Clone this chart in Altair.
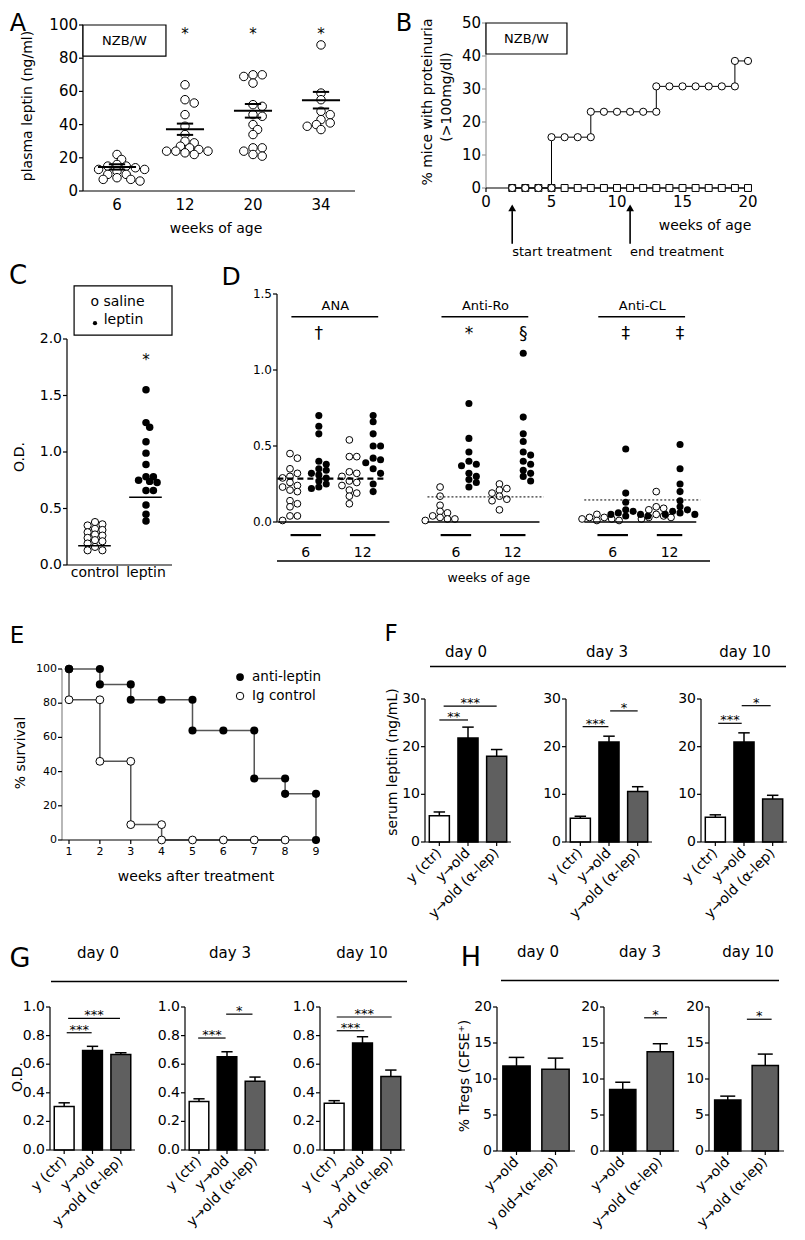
import altair as alt
import pandas as pd

# ======================= DATA =======================
# A: plasma leptin in NZB/W mice
A_weeks = ["6", "12", "20", "34"]
A_w6 = [22, 19, 16, 15, 15, 14, 13, 13, 12, 10, 10, 8, 7, 7, 6]
A_w12 = [64, 55, 53, 46, 39, 34, 30, 29, 27, 26, 25, 24, 24, 24, 23, 22]
A_w20 = [70, 70, 69, 65, 52, 51, 46, 45, 40, 37, 34, 26, 26, 24, 22, 21]
A_w34 = [88, 59, 55, 48, 46, 43, 41, 40, 39, 37]
A_mean = [14.5, 37.2, 48.3, 54.7]
A_sem = [1.6, 3.4, 4.1, 5.0]
A_yticks = [0, 20, 40, 60, 80, 100]

# B: % mice with proteinuria
B_circ_w = [2, 3, 4, 5, 5, 6, 7, 8, 8, 9, 10, 11, 12, 13, 13, 14, 15, 16, 17, 18, 19, 19, 20]
B_circ_v = [0, 0, 0, 0, 15.4, 15.4, 15.4, 15.4, 23.1, 23.1, 23.1, 23.1, 23.1, 23.1,
            30.8, 30.8, 30.8, 30.8, 30.8, 30.8, 30.8, 38.5, 38.5]
B_sq_w = [2, 3, 4, 5, 6, 7, 8, 9, 10, 11, 12, 13, 14, 15, 16, 17, 18, 19, 20]
B_sq_v = [0, 0, 0, 0, 0, 0, 0, 0, 0, 0, 0, 0, 0, 0, 0, 0, 0, 0, 0]
B_event_w = [2, 11]
B_event = ["start treatment", "end treatment"]
B_xticks = [0, 5, 10, 15, 20]
B_yticks = [0, 10, 20, 30, 40, 50]

# C: O.D. saline vs leptin
C_groups = ["control", "leptin"]
C_saline = [0.38, 0.36, 0.35, 0.32, 0.31, 0.29, 0.27, 0.26, 0.24, 0.22, 0.21, 0.19, 0.16, 0.13, 0.13]
C_leptin = [1.55, 1.26, 1.22, 1.09, 0.99, 0.89, 0.78, 0.78, 0.75, 0.74, 0.73, 0.66, 0.66, 0.53, 0.45, 0.39]
C_median = [0.17, 0.60]
C_yticks = [0.0, 0.5, 1.0, 1.5, 2.0]

# D: autoantibodies
D_groups = ["ANA", "Anti-Ro", "Anti-CL"]
D_ages = ["6", "12"]
D_ana_s6 = [0.45, 0.42, 0.35, 0.32, 0.30, 0.29, 0.26, 0.24, 0.23, 0.21, 0.20, 0.14, 0.12, 0.10, 0.04, 0.04, 0.01]
D_ana_l6 = [0.70, 0.63, 0.58, 0.40, 0.38, 0.35, 0.34, 0.32, 0.31, 0.29, 0.27, 0.25, 0.23, 0.22]
D_ana_s12 = [0.54, 0.43, 0.43, 0.33, 0.32, 0.30, 0.27, 0.26, 0.24, 0.21, 0.19, 0.17, 0.12]
D_ana_l12 = [0.70, 0.66, 0.58, 0.50, 0.50, 0.42, 0.41, 0.39, 0.35, 0.32, 0.25, 0.20]
D_ro_s6 = [0.23, 0.17, 0.11, 0.07, 0.06, 0.04, 0.03, 0.02, 0.02, 0.01]
D_ro_l6 = [0.78, 0.55, 0.46, 0.40, 0.38, 0.37, 0.32, 0.30, 0.28, 0.26, 0.23]
D_ro_s12 = [0.25, 0.22, 0.21, 0.19, 0.17, 0.15, 0.14, 0.08]
D_ro_l12 = [1.11, 0.69, 0.58, 0.53, 0.46, 0.44, 0.40, 0.38, 0.34, 0.32, 0.30, 0.27]
D_cl_s6 = [0.05, 0.03, 0.03, 0.02, 0.02, 0.01, 0.01]
D_cl_l6 = [0.48, 0.19, 0.13, 0.08, 0.07, 0.06, 0.05, 0.05, 0.04, 0.04]
D_cl_s12 = [0.20, 0.10, 0.09, 0.08, 0.05, 0.04, 0.03, 0.03, 0.02]
D_cl_l12 = [0.51, 0.35, 0.25, 0.20, 0.14, 0.10, 0.08, 0.07, 0.06, 0.05, 0.05]
D_thresh = [0.285, 0.165, 0.145]
D_sig_group = [0, 1, 1, 2, 2]
D_sig_col = [1, 1, 3, 1, 3]
D_sig = ["\u2020", "*", "\u00a7", "\u2021", "\u2021"]
D_yticks = [0.0, 0.5, 1.0, 1.5]

# E: survival
E_series = ["anti-leptin", "Ig control"]
E_anti_w = [1, 2, 2, 3, 3, 4, 5, 5, 6, 7, 7, 8, 8, 9, 9]
E_anti_s = [100, 100, 91, 91, 82, 82, 82, 64, 64, 64, 36, 36, 27, 27, 0]
E_ig_w = [1, 1, 2, 2, 3, 3, 4, 4, 5, 6, 7, 8]
E_ig_s = [100, 82, 82, 46, 46, 9, 9, 0, 0, 0, 0, 0]
E_xticks = [1, 2, 3, 4, 5, 6, 7, 8, 9]
E_yticks = [0, 20, 40, 60, 80, 100]

# F/G/H: bar panels
DAYS = ["day 0", "day 3", "day 10"]
FG_groups = ["y (ctr)", "y\u2192old", "y\u2192old (\u03b1-lep)"]
H_groups_d0 = ["y\u2192old", "y old\u2192(\u03b1-lep)"]
H_groups = ["y\u2192old", "y\u2192old (\u03b1-lep)"]
F_mean = [[5.5, 21.8, 18.0], [5.0, 21.0, 10.6], [5.2, 21.0, 9.0]]
F_sem = [[0.8, 2.3, 1.4], [0.4, 1.2, 1.0], [0.5, 1.9, 0.8]]
G_mean = [[0.305, 0.695, 0.668], [0.340, 0.652, 0.480], [0.327, 0.748, 0.514]]
G_sem = [[0.025, 0.030, 0.012], [0.018, 0.035, 0.030], [0.018, 0.044, 0.045]]
H_mean = [[11.8, 11.35], [8.55, 13.8], [7.07, 11.86]]
H_sem = [[1.2, 1.55], [1.0, 1.1], [0.55, 1.6]]
F_brackets = [[(0, 1, 25.6, "**"), (0.15, 2, 28.5, "***")],
              [(0.08, 0.98, 24.2, "***"), (1.04, 2.0, 27.5, "*")],
              [(0.1, 0.92, 24.9, "***"), (0.92, 1.93, 28.6, "*")]]
G_brackets = [[(0.09, 0.97, 0.82, "***"), (0.14, 1.97, 0.92, "***")],
              [(-0.03, 0.95, 0.783, "***"), (0.97, 1.91, 0.95, "*")],
              [(0.09, 1.06, 0.834, "***"), (0.09, 2.03, 0.93, "***")]]
H_brackets = [[], [(0.57, 1.18, 18.5, "*")], [(0.51, 1.17, 18.3, "*")]]
F_yticks = [0, 10, 20, 30]
G_yticks = [0.0, 0.2, 0.4, 0.6, 0.8, 1.0]
H_yticks = [0, 5, 10, 15, 20]
FG_colors = ["white", "black", "#5f5f5f"]
H_colors = ["black", "#5f5f5f"]

# ======================= LAYOUT HELPERS =======================
W, H = 789, 1224
MG = 8
FONT = "DejaVu Sans"
ONE = pd.DataFrame({"k": [0]})


class Lin:
    """Linear scale mapping domain [d0, d1] to page pixels [p0, p1]."""

    def __init__(self, d0, d1, p0, p1):
        self.d0, self.d1, self.p0, self.p1 = d0, d1, p0, p1
        self.scale = alt.Scale(domain=[d0, d1], range=[p0 - MG, p1 - MG], nice=False, zero=False)

    def inv(self, p):
        return self.d0 + (p - self.p0) * (self.d1 - self.d0) / (self.p1 - self.p0)


def fmt_labels(vals, dec=None):
    return [f"{v:.{dec}f}" if dec is not None else str(v) for v in vals]


def X(f, s):
    return alt.X(f, type="quantitative", scale=s.scale, axis=None)


def Y(f, s):
    return alt.Y(f, type="quantitative", scale=s.scale, axis=None)


def DX(v):
    return alt.XDatum(v, axis=None)


def DY(v):
    return alt.YDatum(v, axis=None)


def axis_left(xs, ys, xp, vals, labs, lo, hi, size=14, dom="black", tick="black"):
    n = len(vals)
    df = pd.DataFrame({"v": vals, "l": labs, "a": [xs.inv(xp - 4)] * n,
                       "b": [xs.inv(xp)] * n, "t": [xs.inv(xp - 5)] * n})
    dd = pd.DataFrame({"x": [xs.inv(xp)], "lo": [lo], "hi": [hi]})
    dline = alt.Chart(dd).mark_rule(color=dom, strokeWidth=1.2).encode(
        x=X("x", xs), y=Y("lo", ys), y2="hi:Q")
    tks = alt.Chart(df).mark_rule(color=tick, strokeWidth=1.2).encode(
        x=X("a", xs), x2="b:Q", y=Y("v", ys))
    lbl = alt.Chart(df).mark_text(align="right", baseline="middle", fontSize=size).encode(
        x=X("t", xs), y=Y("v", ys), text="l:N")
    return [dline, tks, lbl]


def axis_bottom(xs, ys, yp, vals, labs, lo, hi, size=14, ticks=True, pad=2, rotate=False, dom="black"):
    n = len(vals)
    dd = pd.DataFrame({"y": [ys.inv(yp)], "lo": [lo], "hi": [hi]})
    out = [alt.Chart(dd).mark_rule(color=dom, strokeWidth=1.2).encode(
        y=Y("y", ys), x=X("lo", xs), x2="hi:Q")]
    lab_y = yp + 9 if rotate else yp + (4 if ticks else 0) + pad
    df = pd.DataFrame({"v": vals, "l": labs, "a": [ys.inv(yp)] * n, "b": [ys.inv(yp + 4)] * n,
                       "t": [ys.inv(lab_y)] * n})
    if ticks:
        out.append(alt.Chart(df).mark_rule(color="black", strokeWidth=1.2).encode(
            x=X("v", xs), y=Y("a", ys), y2="b:Q"))
    if rotate:
        out.append(alt.Chart(df).mark_text(angle=315, align="right", baseline="middle", fontSize=size).encode(
            x=X("v", xs), y=Y("t", ys), text="l:N"))
    else:
        out.append(alt.Chart(df).mark_text(align="center", baseline="top", fontSize=size).encode(
            x=X("v", xs), y=Y("t", ys), text="l:N"))
    return out


def swarm(vals, r, ppu_y, ppu_x, sep=1.6):
    placed, out = [], []
    for v in vals:
        yy = v * ppu_y
        cand = [0.0]
        for k in range(1, 14):
            cand += [k * r, -k * r]
        chosen = cand[-1]
        for c in cand:
            if all((c - a) ** 2 + (yy - b) ** 2 >= (sep * r) ** 2 for a, b in placed):
                chosen = c
                break
        placed.append((chosen, yy))
        out.append(chosen / ppu_x)
    return out


def vtext(t, x, y, size, **kw):
    return alt.Chart(ONE).mark_text(text=t, fontSize=size, **kw).encode(
        x=alt.value(x - MG), y=alt.value(y - MG))


def ytitle(t, x, y, size=14):
    return vtext(t, x, y, size, angle=270, align="center", baseline="middle")


def xtitle(t, x, y, size=14):
    return vtext(t, x, y, size, align="center", baseline="middle")


def vrule(x1, x2, y, w=1.4):
    return alt.Chart(ONE).mark_rule(strokeWidth=w, color="black").encode(
        x=alt.value(x1 - MG), x2=alt.value(x2 - MG), y=alt.value(y - MG))


OPEN = dict(shape="circle", filled=True, fill="white", stroke="black", strokeWidth=1, opacity=1)

layers = []

# ======================= PANEL A =======================
xA = Lin(-0.5, 3.5, 83, 355)
yA = Lin(0, 100, 191, 25)
rows = []
for gi, vals in enumerate([A_w6, A_w12, A_w20, A_w34]):
    for v, o in zip(vals, swarm(vals, 4.6, 1.66, 68.0, sep=1.4)):
        rows.append({"x": gi + o, "v": v})
dfA = pd.DataFrame(rows)
dfAm = pd.DataFrame({"g": [0, 1, 2, 3], "m": A_mean, "s": A_sem})
A_pts = alt.Chart(dfA).mark_point(size=72, **OPEN).encode(x=X("x", xA), y=Y("v", yA))
A_box = alt.Chart(ONE).mark_rect(fill="white", stroke="black", strokeWidth=1.2).encode(
    x=DX(-0.5), x2=alt.datum(0.72), y=DY(100), y2=alt.datum(81.3))
A_mn = alt.Chart(dfAm).transform_calculate(lo="datum.g-0.28", hi="datum.g+0.28").mark_rule(
    strokeWidth=2, color="black").encode(x=X("lo", xA), x2="hi:Q", y=Y("m", yA))
A_s1 = alt.Chart(dfAm).transform_calculate(lo="datum.g-0.12", hi="datum.g+0.12",
                                           u="datum.m+datum.s").mark_rule(
    strokeWidth=2, color="black").encode(x=X("lo", xA), x2="hi:Q", y=Y("u", yA))
A_s2 = alt.Chart(dfAm).transform_calculate(lo="datum.g-0.12", hi="datum.g+0.12",
                                           d="datum.m-datum.s").mark_rule(
    strokeWidth=2, color="black").encode(x=X("lo", xA), x2="hi:Q", y=Y("d", yA))
A_star = alt.Chart(pd.DataFrame({"g": [1, 2, 3]})).mark_text(text="*", fontSize=15, baseline="middle").encode(
    x=X("g", xA), y=DY(94.5))
A_lbl = alt.Chart(ONE).mark_text(text="NZB/W", fontSize=13, baseline="middle").encode(
    x=DX(0.11), y=DY(90.6))
layers.append(alt.layer(
    A_pts, *axis_left(xA, yA, 83, A_yticks, fmt_labels(A_yticks), 0, 100, size=15),
    *axis_bottom(xA, yA, 191, [0, 1, 2, 3], A_weeks, -0.5, 3.5, size=15, ticks=False, pad=7),
    A_box, A_mn, A_s1, A_s2, A_star, A_lbl))
layers.append(ytitle("plasma leptin (ng/ml)", 28, 106))
layers.append(xtitle("weeks of age", 216, 229))

# ======================= PANEL B =======================
xB = Lin(0, 20, 486, 748)
yB = Lin(0, 50, 188, 23)
dfBc = pd.DataFrame({"w": B_circ_w, "v": B_circ_v, "i": list(range(len(B_circ_w)))})
dfBs = pd.DataFrame({"w": B_sq_w, "v": B_sq_v, "i": list(range(len(B_sq_w)))})
dfBe = pd.DataFrame({"w": B_event_w, "t": B_event})
B_cl = alt.Chart(dfBc).mark_line(color="black", strokeWidth=1).encode(
    x=X("w", xB), y=Y("v", yB), order="i:Q")
B_sl = alt.Chart(dfBs).mark_line(color="black", strokeWidth=1).encode(
    x=X("w", xB), y=Y("v", yB), order="i:Q")
B_sp = alt.Chart(dfBs).mark_point(shape="square", filled=True, fill="white", stroke="black",
                                  strokeWidth=1, size=48, opacity=1).encode(x=X("w", xB), y=Y("v", yB))
B_cp = alt.Chart(dfBc).mark_point(size=52, **OPEN).encode(x=X("w", xB), y=Y("v", yB))
B_box = alt.Chart(ONE).mark_rect(fill="white", stroke="black", strokeWidth=1.2).encode(
    x=DX(0), x2=alt.datum(6.18), y=DY(50), y2=alt.datum(40.6))
B_lbl = alt.Chart(ONE).mark_text(text="NZB/W", fontSize=13, baseline="middle").encode(
    x=DX(3.09), y=DY(45.3))
B_ar = alt.Chart(dfBe).mark_rule(strokeWidth=1.6, color="black").encode(
    x=X("w", xB), y=DY(-7.0), y2=alt.datum(-16.9))
B_ah = alt.Chart(dfBe).mark_point(shape="triangle-up", filled=True, color="black", size=60, opacity=1).encode(
    x=X("w", xB), y=DY(-6.0))
B_at = alt.Chart(dfBe).mark_text(align="left", baseline="middle", fontSize=13).encode(
    x=X("w", xB), y=DY(-19.4), text="t:N")
layers.append(alt.layer(
    B_cl, *axis_left(xB, yB, 486, B_yticks, fmt_labels(B_yticks), 0, 50, size=15, dom="#999999", tick="#999999"),
    *axis_bottom(xB, yB, 188, B_xticks, fmt_labels(B_xticks), 0, 20, size=15, pad=3),
    B_sl, B_sp, B_cp, B_box, B_lbl, B_ar, B_ah, B_at))
layers.append(ytitle("% mice with proteinuria", 428, 102))
layers.append(ytitle("(>100mg/dl)", 447, 97))
layers.append(xtitle("weeks of age", 705, 226))

# ======================= PANEL C =======================
xC = Lin(-0.549, 1.51, 67, 172)
yC = Lin(0, 2, 565, 339)
rows = []
for gi, vals in enumerate([C_saline, C_leptin]):
    for v, o in zip(vals, swarm(vals, 3.7, 113.0, 51.0, sep=1.5)):
        rows.append({"x": gi + o, "v": v, "f": gi})
dfC = pd.DataFrame(rows)
dfCm = pd.DataFrame({"g": [0, 1], "m": C_median})
C_o = alt.Chart(dfC).transform_filter("datum.f == 0").mark_point(size=52, **OPEN).encode(
    x=X("x", xC), y=Y("v", yC))
C_f = alt.Chart(dfC).transform_filter("datum.f == 1").mark_circle(color="black", size=56, opacity=1).encode(
    x=X("x", xC), y=Y("v", yC))
C_m = alt.Chart(dfCm).transform_calculate(lo="datum.g-0.33", hi="datum.g+0.31").mark_rule(
    strokeWidth=1.5, color="black").encode(x=X("lo", xC), x2="hi:Q", y=Y("m", yC))
C_star = alt.Chart(ONE).mark_text(text="*", fontSize=15, baseline="middle").encode(
    x=DX(1), y=DY(1.81))
C_box = alt.Chart(ONE).mark_rect(fill="white", stroke="black", strokeWidth=1.2).encode(
    x=DX(-0.41), x2=alt.datum(1.51), y=DY(2.47), y2=alt.datum(2.035))
C_t1 = alt.Chart(ONE).mark_text(text="o saline", fontSize=14, align="left", baseline="middle").encode(
    x=DX(-0.09), y=DY(2.33))
C_t2 = alt.Chart(ONE).mark_text(text="leptin", fontSize=14, align="left", baseline="middle").encode(
    x=DX(0.17), y=DY(2.17))
C_dot = alt.Chart(ONE).mark_circle(color="black", size=18, opacity=1).encode(
    x=DX(0.0), y=DY(2.14))
layers.append(alt.layer(
    C_o, *axis_left(xC, yC, 67, C_yticks, fmt_labels(C_yticks, 1), 0, 2, size=14),
    *axis_bottom(xC, yC, 565, [0, 1], C_groups, -0.549, 1.51, size=14, ticks=False, pad=1),
    C_f, C_m, C_star, C_box, C_t1, C_t2, C_dot))
layers.append(ytitle("O.D.", 20, 457))

# ======================= PANEL D =======================
xD = Lin(-0.464, 15.0, 277, 710)
yD = Lin(0, 1.5, 522, 294)
GOFF = [0.0, 5.36, 10.96]
COLS = [0.0, 1.03, 2.12, 2.97]
D_sets = [[D_ana_s6, D_ana_l6, D_ana_s12, D_ana_l12],
          [D_ro_s6, D_ro_l6, D_ro_s12, D_ro_l12],
          [D_cl_s6, D_cl_l6, D_cl_s12, D_cl_l12]]
rows = []
for gi, sets in enumerate(D_sets):
    for ci, vals in enumerate(sets):
        for v, o in zip(vals, swarm(vals, 3.7, 152.0, 28.0)):
            rows.append({"x": GOFF[gi] + COLS[ci] + o, "v": v, "f": ci % 2})
dfD = pd.DataFrame(rows)
dfDg = pd.DataFrame({"g": D_groups, "off": GOFF, "thr": D_thresh, "dash": [1, 0, 0]})
dfDs = pd.DataFrame({"x": [GOFF[g] + COLS[c] for g, c in zip(D_sig_group, D_sig_col)], "t": D_sig})
rows = []
for gi in range(3):
    for ai, age in enumerate(D_ages):
        c0, c1 = COLS[2 * ai], COLS[2 * ai + 1]
        rows.append({"a": GOFF[gi] + c0 + 0.02, "b": GOFF[gi] + c1 + 0.08,
                     "mid": GOFF[gi] + (c0 + c1) / 2 + 0.05, "t": age})
dfDa = pd.DataFrame(rows)
D_o = alt.Chart(dfD).transform_filter("datum.f == 0").mark_point(size=46, **OPEN).encode(
    x=X("x", xD), y=Y("v", yD))
D_f = alt.Chart(dfD).transform_filter("datum.f == 1").mark_circle(color="black", size=50, opacity=1).encode(
    x=X("x", xD), y=Y("v", yD))
D_base = alt.Chart(dfDg).transform_calculate(lo="datum.off-0.45", hi="datum.off+3.55").mark_rule(
    strokeWidth=1.3, color="black").encode(x=X("lo", xD), x2="hi:Q", y=DY(0))
D_th1 = alt.Chart(dfDg).transform_filter("datum.dash == 1").transform_calculate(
    lo="datum.off-0.45", hi="datum.off+3.45").mark_rule(
    strokeWidth=2.2, color="black", strokeDash=[6, 4]).encode(x=X("lo", xD), x2="hi:Q", y=Y("thr", yD))
D_th2 = alt.Chart(dfDg).transform_filter("datum.dash == 0").transform_calculate(
    lo="datum.off-0.45", hi="datum.off+3.7").mark_rule(
    strokeWidth=1, color="black", strokeDash=[2, 2]).encode(x=X("lo", xD), x2="hi:Q", y=Y("thr", yD))
D_gt = alt.Chart(dfDg).transform_calculate(c="datum.off+1.62").mark_text(
    fontSize=13, baseline="middle").encode(x=X("c", xD), y=DY(1.42), text="g:N")
D_gl = alt.Chart(dfDg).transform_calculate(lo="datum.off+0.05", hi="datum.off+3.15").mark_rule(
    strokeWidth=1.5, color="black").encode(x=X("lo", xD), x2="hi:Q", y=DY(1.35))
D_sg = alt.Chart(dfDs).mark_text(fontSize=17, baseline="middle").encode(
    x=X("x", xD), y=DY(1.237), text="t:N")
D_ul = alt.Chart(dfDa).mark_rule(strokeWidth=2.2, color="black").encode(
    x=X("a", xD), x2="b:Q", y=DY(-0.086))
D_al = alt.Chart(dfDa).mark_text(fontSize=14, baseline="middle").encode(
    x=X("mid", xD), y=DY(-0.204), text="t:N")
D_bl = alt.Chart(ONE).mark_rule(strokeWidth=1.5, color="black").encode(
    x=DX(-0.464), x2=alt.datum(15.0), y=DY(-0.257))
D_wt = alt.Chart(ONE).mark_text(text="weeks of age", fontSize=12.5, baseline="middle").encode(
    x=DX(7.1), y=DY(-0.368))
layers.append(alt.layer(
    D_o, *axis_left(xD, yD, 277, D_yticks, fmt_labels(D_yticks, 1), 0, 1.5, size=12),
    D_f, D_base, D_th1, D_th2, D_gt, D_gl, D_sg, D_ul, D_al, D_bl, D_wt))

# ======================= PANEL E =======================
xE = Lin(0.773, 9.13, 62, 320)
yE = Lin(0, 100, 840, 669)
dfEa = pd.DataFrame({"w": E_anti_w, "s": E_anti_s, "i": list(range(len(E_anti_w)))})
dfEi = pd.DataFrame({"w": E_ig_w, "s": E_ig_s, "i": list(range(len(E_ig_w)))})
E_il = alt.Chart(dfEi).mark_line(color="#555555", strokeWidth=1.5).encode(
    x=X("w", xE), y=Y("s", yE), order="i:Q")
E_al = alt.Chart(dfEa).mark_line(color="#555555", strokeWidth=1.5).encode(
    x=X("w", xE), y=Y("s", yE), order="i:Q")
E_ip = alt.Chart(dfEi).mark_point(size=62, **OPEN).encode(x=X("w", xE), y=Y("s", yE))
E_ap = alt.Chart(dfEa).mark_circle(color="black", size=66, opacity=1).encode(x=X("w", xE), y=Y("s", yE))
E_lg1 = alt.Chart(ONE).mark_circle(color="black", size=60, opacity=1).encode(
    x=DX(6.54), y=DY(95.3))
E_lg2 = alt.Chart(ONE).mark_point(size=56, **OPEN).encode(x=DX(6.54), y=DY(84.2))
E_lt = alt.Chart(pd.DataFrame({"t": E_series, "y": [95.3, 84.2]})).mark_text(
    fontSize=13.5, align="left", baseline="middle").encode(
    x=DX(6.93), y=Y("y", yE), text="t:N")
layers.append(alt.layer(
    E_il, *axis_left(xE, yE, 62, E_yticks, fmt_labels(E_yticks), 0, 100, size=11, dom="#888888"),
    *axis_bottom(xE, yE, 840, E_xticks, fmt_labels(E_xticks), 0.773, 9.13, size=11, pad=2),
    E_al, E_ip, E_ap, E_lg1, E_lg2, E_lt))
layers.append(ytitle("% survival", 21, 753))
layers.append(xtitle("weeks after treatment", 196, 877))


# ======================= PANELS F, G, H =======================
def bar_panel(xl, xr, yb, yt, ymax, labels, means, sems, colors, brackets, yvals, dec=None):
    n = len(labels)
    xs_ = Lin(-0.5, n - 0.5, xl, xr)
    ys_ = Lin(0, ymax, yb, yt)
    df = pd.DataFrame({"i": list(range(n)), "m": means, "s": sems, "c": colors})
    bars = alt.Chart(df).transform_calculate(lo="datum.i-0.35", hi="datum.i+0.35", z="0").mark_bar(
        stroke="black", strokeWidth=1.5).encode(
        x=X("lo", xs_), x2="hi:Q", y=Y("m", ys_), y2="z:Q",
        fill=alt.Fill("c:N", scale=None))
    err = alt.Chart(df).transform_calculate(u="datum.m+datum.s").mark_rule(
        strokeWidth=1.5, color="black").encode(x=X("i", xs_), y=Y("m", ys_), y2="u:Q")
    cap = alt.Chart(df).transform_calculate(u="datum.m+datum.s", lo="datum.i-0.2",
                                            hi="datum.i+0.2").mark_rule(
        strokeWidth=1.5, color="black").encode(x=X("lo", xs_), x2="hi:Q", y=Y("u", ys_))
    parts = [bars, err, cap,
             *axis_left(xs_, ys_, xl, yvals, fmt_labels(yvals, dec), 0, ymax, size=14),
             *axis_bottom(xs_, ys_, yb, list(range(n)), labels, -0.5, n - 0.5, size=14, rotate=True)]
    if brackets:
        bdf = pd.DataFrame(brackets, columns=["a", "b", "y", "t"])
        parts.append(alt.Chart(bdf).mark_rule(strokeWidth=1.2, color="black").encode(
            x=X("a", xs_), x2="b:Q", y=Y("y", ys_)))
        parts.append(alt.Chart(bdf).transform_calculate(mid="(datum.a+datum.b)/2").mark_text(
            fontSize=13, baseline="alphabetic", dy=1).encode(
            x=X("mid", xs_), y=Y("y", ys_), text="t:N"))
    return alt.layer(*parts)


F_x = [(425, 511), (566, 652), (701, 787)]
G_x = [(50, 135), (185, 269), (320, 405)]
H_x = [(497, 575), (604, 679), (709, 784)]
for d in range(3):
    layers.append(bar_panel(F_x[d][0], F_x[d][1], 842, 699, 30, FG_groups, F_mean[d], F_sem[d],
                            FG_colors, F_brackets[d], F_yticks))
    layers.append(bar_panel(G_x[d][0], G_x[d][1], 1150, 1007, 1.0, FG_groups, G_mean[d], G_sem[d],
                            FG_colors, G_brackets[d], G_yticks, dec=1))
    layers.append(bar_panel(H_x[d][0], H_x[d][1], 1151, 1007, 20,
                            H_groups_d0 if d == 0 else H_groups, H_mean[d], H_sem[d],
                            H_colors, H_brackets[d], H_yticks))
layers.append(ytitle("serum leptin (ng/mL)", 393, 762))
layers.append(ytitle("O.D.", 18, 1077))
layers.append(ytitle("% Tregs (CFSE\u207a)", 465, 1076))

# ======================= PANEL LETTERS & HEADERS =======================
layers.append(vtext("A", 18, 31, 24, align="center", baseline="alphabetic"))
layers.append(vtext("B", 404, 31, 24, align="center", baseline="alphabetic"))
for t, x, y, s in [("C", 18, 276, 26), ("D", 231, 277, 25), ("E", 17, 636, 23),
                   ("F", 391, 634, 23), ("G", 20, 959, 27), ("H", 471, 958, 27)]:
    layers.append(vtext(t, x, y, s, align="center", baseline="middle"))

F_hx = [466, 607, 745]
G_hx = [98, 230, 362]
H_hx = [538, 640, 748]
for i, day in enumerate(DAYS):
    layers.append(vtext(day, F_hx[i], 652, 15, align="center", baseline="middle"))
    layers.append(vtext(day, G_hx[i], 953, 15, align="center", baseline="middle"))
    layers.append(vtext(day, H_hx[i], 952, 15, align="center", baseline="middle"))
layers.append(vrule(430, 786, 666.5))
layers.append(vrule(51, 407, 981.5))
layers.append(vrule(501, 779, 980.5))

chart = (
    alt.layer(*layers)
    .resolve_scale(x="independent", y="independent")
    .properties(width=W, height=H, padding=0, autosize=alt.AutoSizeParams(type="none"))
    .configure_view(stroke=None)
    .configure_text(font=FONT, color="black")
)
chart.save("out.html", embed_options={"renderer": "svg", "actions": False})
